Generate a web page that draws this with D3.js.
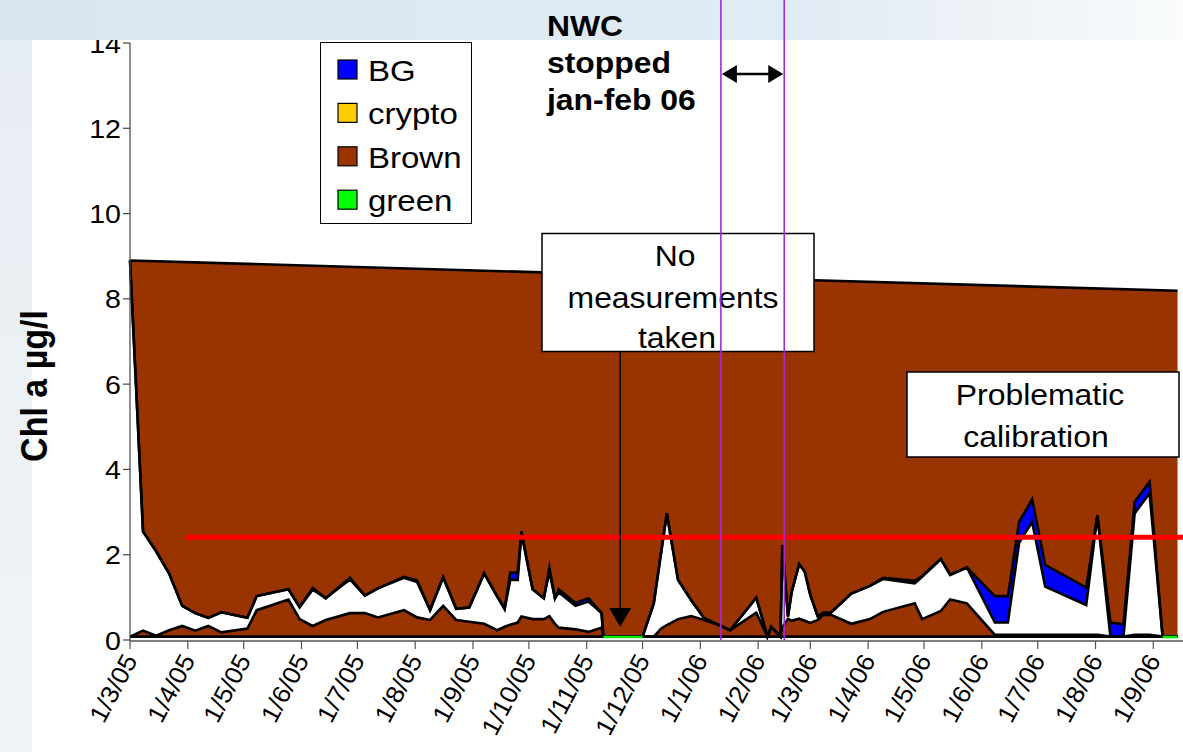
<!DOCTYPE html>
<html><head><meta charset="utf-8">
<script src="https://cdn.jsdelivr.net/npm/d3@7"></script>
<style>body{margin:0;background:#fff;} svg{display:block;font-family:"Liberation Sans",Arial,sans-serif;}</style>
</head><body><svg id="c" width="1183" height="752"></svg>
<script>
// ---------- data ----------
const dates = ["2005-03-01","2005-03-08","2005-03-15","2005-03-22","2005-03-29","2005-04-05","2005-04-12","2005-04-19","2005-05-03","2005-05-08",
"2005-05-25","2005-05-31","2005-06-07","2005-06-14","2005-06-27","2005-07-05","2005-07-12","2005-07-26","2005-08-02","2005-08-09",
"2005-08-16","2005-08-23","2005-08-30","2005-09-07","2005-09-14","2005-09-18","2005-09-21","2005-09-25","2005-09-27","2005-10-03",
"2005-10-09","2005-10-12","2005-10-15","2005-10-17","2005-10-26","2005-11-02","2005-11-09","2005-11-10","2005-12-01","2005-12-07",
"2005-12-11","2005-12-14","2005-12-20","2005-12-27","2006-01-03","2006-01-11","2006-01-17","2006-01-31","2006-02-06","2006-02-08",
"2006-02-13","2006-02-14","2006-02-17","2006-02-19","2006-02-23","2006-02-26","2006-03-01","2006-03-05","2006-03-08","2006-03-12",
"2006-03-23","2006-04-02","2006-04-09","2006-04-26","2006-04-30","2006-05-10","2006-05-15","2006-05-24","2006-06-08","2006-06-15",
"2006-06-21","2006-06-28","2006-07-05","2006-07-27","2006-08-02","2006-08-09","2006-08-16","2006-08-22","2006-08-30","2006-09-06",
"2006-09-14"];
// Brown (lower band), unassigned white band, BG – each a layer thickness in µg/l
const brown = [0,0.14,0.02,0.15,0.25,0.14,0.25,0.10,0.19,0.62,
0.87,0.41,0.25,0.39,0.55,0.55,0.45,0.62,0.45,0.39,
0.72,0.39,0.35,0.30,0.15,0.23,0.28,0.33,0.47,0.41,
0.41,0.48,0.30,0.21,0.17,0.11,0.21,0,0,0,
0.19,0.27,0.41,0.48,0.39,0.27,0.15,0.56,0,0.23,
0,0.22,0.42,0.37,0.42,0.37,0.32,0.39,0.51,0.51,
0.30,0.41,0.58,0.78,0.41,0.60,0.87,0.78,0.04,0.04,
0.04,0.04,0.04,0.04,0.04,0,0,0.04,0.04,0,
0];
const blank = [8.82,2.32,1.98,1.33,0.47,0.41,0.19,0.47,0.25,0.33,
0.24,0.28,0.85,0.51,0.79,0.41,0.68,0.76,0.83,0.23,
0.67,0.26,0.33,1.18,0.79,0.41,1.05,1.00,1.95,0.70,
0.49,1.04,0.60,0.83,0.55,0.71,0.34,0,0,0.78,
1.80,2.62,0.92,0.38,0.04,0,0,0.35,0,0,
0,1.88,0.05,0.68,1.28,1.15,0.65,0.08,0.05,0.05,
0.71,0.78,0.77,0.47,0.99,1.22,0.58,0.84,0.29,0.29,
2.16,2.65,1.13,0.70,2.79,0,0,2.85,3.32,0,
0];
const bg = [0,0,0,0,0,0,0,0,0,0,
0,0,0.04,0,0.04,0,0,0.02,0.04,0,
0,0,0,0,0,0.03,0.17,0.17,0.05,0,
0,0.10,0,0.07,0.07,0.08,0,0,0,0,
0,0,0,0,0,0,0,0,0,0,
0,0.05,0,0,0,0,0,0,0,0,
0,0,0.03,0.06,0.02,0,0,0,0.62,0.62,
0.49,0.53,0.51,0.41,0.02,0.33,0.29,0.27,0.27,0,
0];
// green only visible where everything else is zero
const green = [null,null,null,null,null,null,null,null,null,null,
null,null,null,null,null,null,null,null,null,null,
null,null,null,null,null,null,null,null,null,null,
null,null,null,null,null,null,null,0.07,0.07,null,
null,null,null,null,null,null,null,null,null,null,
null,null,null,null,null,null,null,null,null,null,
null,null,null,null,null,null,null,null,null,null,
null,null,null,null,null,null,null,null,null,0.07,
0.07];
const floorValue = 0.08;
const topDates = ["2005-03-01","2006-09-14"];
const topValues = [8.9, 8.19];
const refDates = ["2005-03-31","2006-09-24"];
const refValues = [2.41, 2.41];
const stopDates = ["2006-01-12","2006-02-15"];
const gapArrowDate = "2005-11-19";
const yTicks = [0,2,4,6,8,10,12,14];
const xStart = "2005-03-01", xEnd = "2006-09-01";
const legendNames = ["BG","crypto","Brown","green"];
const legendColors = ["#0000ff","#ffcc00","#993300","#00ff00"];

// ---------- setup ----------
const parse = d3.utcParse("%Y-%m-%d");
const svg = d3.select("#c");
const W = 1183, H = 752;
const x = d3.scaleUtc().domain([parse(xStart), parse(xEnd)]).range([130, 1153.3]);
const y = d3.scaleLinear().domain([0, 14]).range([640, 43]);
const SX = 1.1;
function txt(g, px, py, s, size, weight, anchor) {
  return g.append("text").attr("transform", `translate(${px},${py}) scale(${SX},1)`)
    .attr("font-size", size).attr("font-weight", weight || "normal")
    .attr("text-anchor", anchor || "start").attr("fill", "#000").text(s);
}

const defs = svg.append("defs");
const gb = defs.append("linearGradient").attr("id", "band");
gb.append("stop").attr("offset", "0").attr("stop-color", "#d9e6f0");
gb.append("stop").attr("offset", "0.68").attr("stop-color", "#e1ebf3");
gb.append("stop").attr("offset", "0.85").attr("stop-color", "#eff3f7");
gb.append("stop").attr("offset", "1").attr("stop-color", "#f9fbfc");
const gl = defs.append("linearGradient").attr("id", "left").attr("x1", 0).attr("y1", 0).attr("x2", 0).attr("y2", 1);
gl.append("stop").attr("offset", "0").attr("stop-color", "#e6edf3");
gl.append("stop").attr("offset", "1").attr("stop-color", "#f1f4f7");

svg.append("rect").attr("width", W).attr("height", H).attr("fill", "#fff");
svg.append("rect").attr("x", 0).attr("y", 0).attr("width", 32).attr("height", H).attr("fill", "url(#left)");

// ---------- plot ----------
const rows = dates.map((d, i) => ({ date: parse(d), brown: brown[i], blank: blank[i], bg: bg[i] }));
const stacked = d3.stack().keys(["brown", "blank", "bg"])(rows);
const fills = { brown: "#993300", blank: "#ffffff", bg: "#0000ff" };

const topRows = topDates.map((d, i) => ({ date: parse(d), v: topValues[i] }));
const plot = svg.append("g");
plot.append("path").datum(topRows)
  .attr("d", d3.area().x(d => x(d.date)).y0(y(floorValue)).y1(d => y(d.v)))
  .attr("fill", "#993300");

stacked.forEach(layer => {
  plot.append("path").datum(layer)
    .attr("d", d3.area().x(d => x(d.data.date)).y0(d => y(floorValue + d[0])).y1(d => y(floorValue + d[1])))
    .attr("fill", fills[layer.key]);
});
const lineStyle = p => p.attr("fill", "none").attr("stroke", "#000").attr("stroke-width", 2.6)
  .attr("stroke-linejoin", "miter").attr("stroke-miterlimit", 6);
plot.append("path").datum(topRows).attr("d", d3.line().x(d => x(d.date)).y(d => y(d.v))).call(lineStyle);
stacked.forEach(layer => {
  plot.append("path").datum(layer)
    .attr("d", d3.line().x(d => x(d.data.date)).y(d => y(floorValue + d[1])))
    .call(lineStyle);
});
plot.append("path").datum(rows)
  .attr("d", d3.line().x(d => x(d.date)).y(y(floorValue))).call(lineStyle);
// green
const greenRows = dates.map((d, i) => ({ date: parse(d), v: green[i] }));
plot.append("path").datum(greenRows)
  .attr("d", d3.line().defined(d => d.v !== null).x(d => x(d.date)).y(d => y(d.v)))
  .attr("fill", "none").attr("stroke", "#00ee00").attr("stroke-width", 2.6);

// red reference line
const refRows = refDates.map((d, i) => ({ date: parse(d), v: refValues[i] }));
plot.append("path").datum(refRows).attr("d", d3.line().x(d => x(d.date)).y(d => y(d.v)))
  .attr("stroke", "#ff0000").attr("stroke-width", 5).attr("fill", "none");

// ---------- axes ----------
const ax = svg.append("g");
ax.append("line").attr("x1", 130).attr("x2", 130).attr("y1", y(14)).attr("y2", 641).attr("stroke", "#444").attr("stroke-width", 1.2);
ax.append("line").attr("x1", 130).attr("x2", W).attr("y1", 641).attr("y2", 641).attr("stroke", "#555").attr("stroke-width", 1.5);
yTicks.forEach(t => {
  ax.append("line").attr("x1", 123).attr("x2", 130).attr("y1", y(t)).attr("y2", y(t)).attr("stroke", "#444").attr("stroke-width", 1.2);
  txt(ax, 121, y(t) + 9.5, String(t), 26, "normal", "end");
});
const xTicks = d3.utcMonth.range(parse(xStart), d3.utcDay.offset(parse(xEnd), 1));
const fmt = d3.utcFormat("%-d/%-m/%y");
xTicks.forEach(t => {
  const px = x(t);
  ax.append("line").attr("x1", px).attr("x2", px).attr("y1", 641).attr("y2", 649).attr("stroke", "#555").attr("stroke-width", 1.2);
  ax.append("text").attr("transform", `translate(${px + 8},${660}) rotate(-62) scale(1.05,1)`)
    .attr("text-anchor", "end").attr("font-size", 25).attr("fill", "#000").text(fmt(t));
});
// y title
svg.append("text").attr("transform", `translate(47,386) rotate(-90) scale(1,${SX})`)
  .attr("text-anchor", "middle").attr("font-size", 34).attr("font-weight", "bold").text("Chl a µg/l");

// ---------- legend ----------
const lg = svg.append("g");
lg.append("rect").attr("x", 320.5).attr("y", 42.5).attr("width", 151).attr("height", 181)
  .attr("fill", "#fff").attr("stroke", "#000").attr("stroke-width", 1);
legendNames.forEach((n, i) => {
  const cy = 70 + i * 43.4;
  lg.append("rect").attr("x", 338).attr("y", cy - 10).attr("width", 19).attr("height", 19)
    .attr("fill", legendColors[i]).attr("stroke", "#000").attr("stroke-width", 1.2);
  txt(lg, 368, cy + 11, n, 30);
});

// ---------- annotations ----------
const an = svg.append("g");
an.append("rect").attr("x", 542).attr("y", 233.5).attr("width", 272).attr("height", 118)
  .attr("fill", "#fff").attr("stroke", "#000").attr("stroke-width", 1.5);
txt(an, 675, 266, "No", 29, "normal", "middle");
txt(an, 673, 308, "measurements", 29, "normal", "middle");
txt(an, 677, 348, "taken", 29, "normal", "middle");
const ax0 = x(parse(gapArrowDate));
an.append("line").attr("x1", ax0).attr("x2", ax0).attr("y1", 352).attr("y2", 610).attr("stroke", "#000").attr("stroke-width", 1.5);
an.append("path").attr("d", `M${ax0 - 11},608 L${ax0 + 11},608 L${ax0},627 Z`).attr("fill", "#000");

an.append("rect").attr("x", 907).attr("y", 372).attr("width", 272).attr("height", 85)
  .attr("fill", "#fff").attr("stroke", "#000").attr("stroke-width", 1.5);
txt(an, 1040, 405, "Problematic", 29, "normal", "middle");
txt(an, 1036, 447, "calibration", 29, "normal", "middle");

// top band (over chart)
svg.append("rect").attr("x", 0).attr("y", 0).attr("width", W).attr("height", 40).attr("fill", "url(#band)");

// NWC stop period
const sx = stopDates.map(d => x(parse(d)));
sx.forEach(px => svg.append("line").attr("x1", px).attr("x2", px).attr("y1", 0).attr("y2", 640)
  .attr("stroke", "#a52ad6").attr("stroke-width", 1.6));
svg.append("line").attr("x1", sx[0] + 12).attr("x2", sx[1] - 12).attr("y1", 74).attr("y2", 74).attr("stroke", "#000").attr("stroke-width", 2.5);
svg.append("path").attr("d", `M${sx[0] + 1},74 L${sx[0] + 16},65 L${sx[0] + 16},83 Z`).attr("fill", "#000");
svg.append("path").attr("d", `M${sx[1] - 1},74 L${sx[1] - 16},65 L${sx[1] - 16},83 Z`).attr("fill", "#000");
const nwc = svg.append("g");
txt(nwc, 547, 36, "NWC", 29, "bold");
txt(nwc, 547, 73, "stopped", 29, "bold");
txt(nwc, 547, 110, "jan-feb 06", 29, "bold");
</script></body></html>
